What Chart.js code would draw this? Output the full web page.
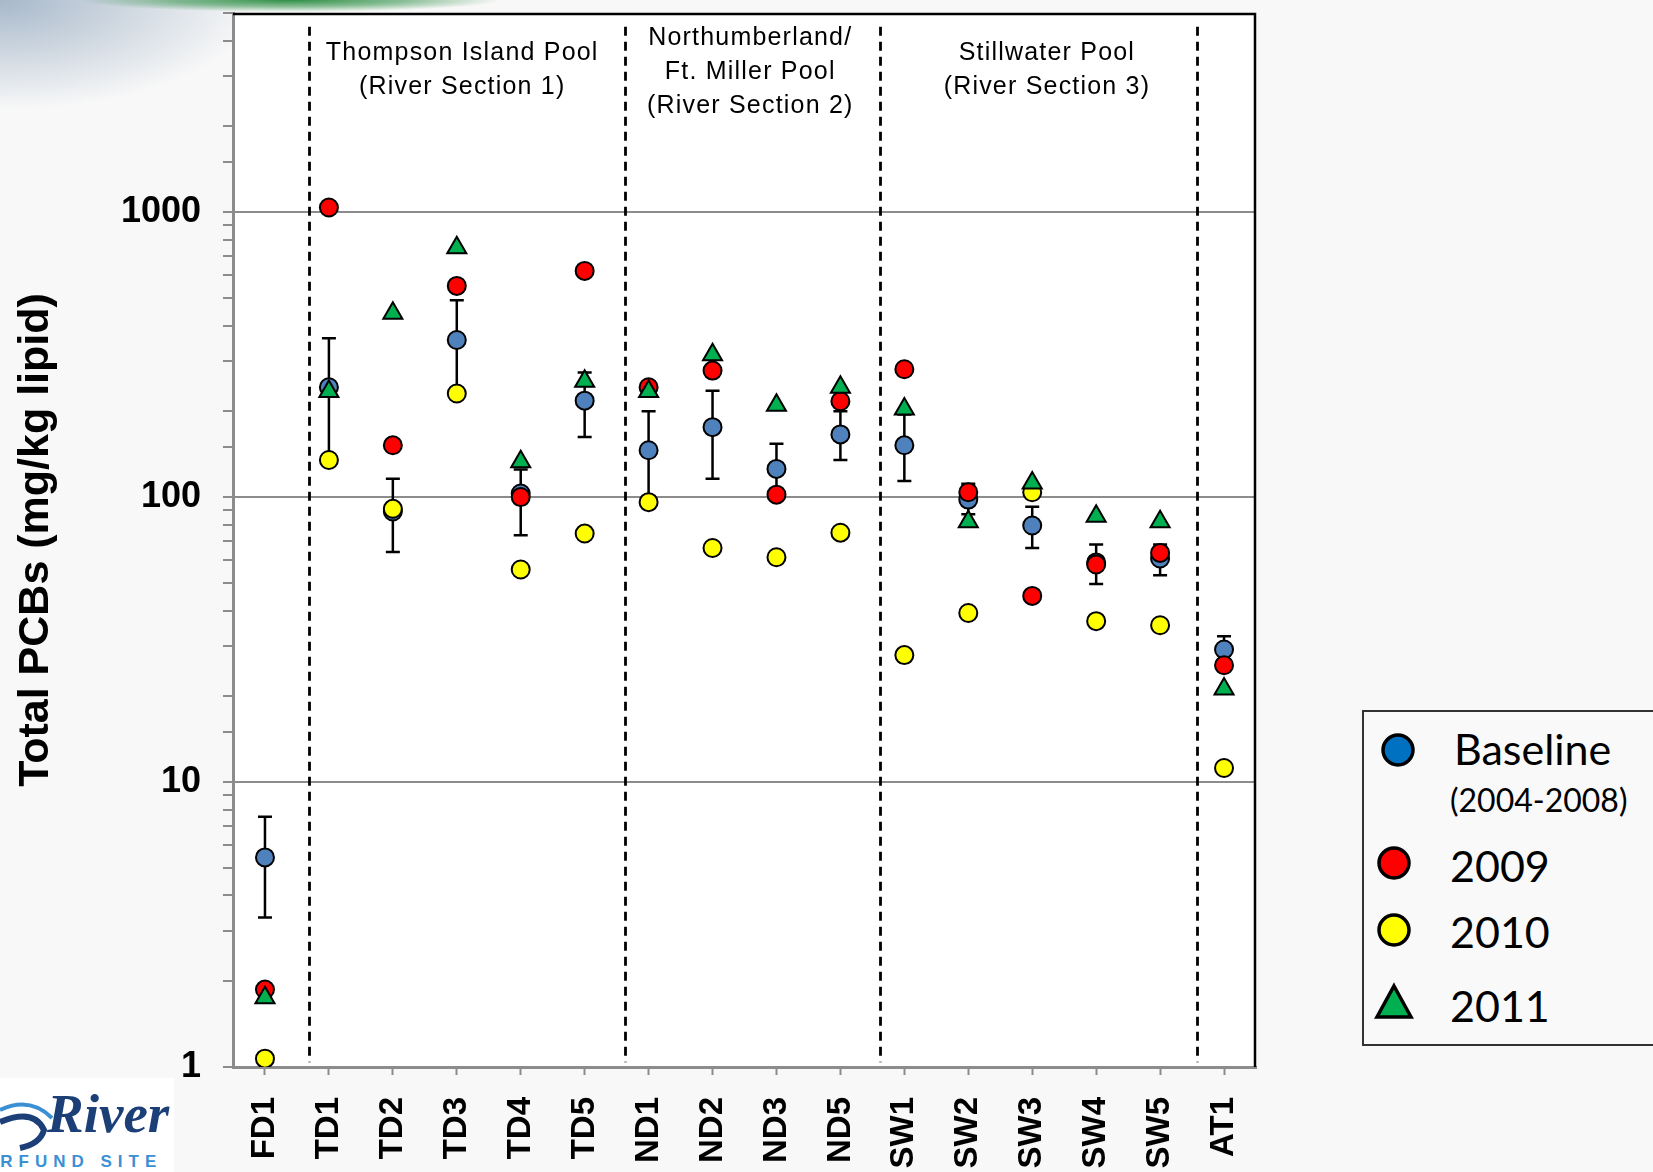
<!DOCTYPE html>
<html>
<head>
<meta charset="utf-8">
<script src="https://cdn.jsdelivr.net/npm/chart.js@4/dist/chart.umd.min.js"></script>
<style>
    html, body { margin: 0; padding: 0; }
    body {
        width: 1653px; height: 1172px; overflow: hidden; position: relative;
        background:
            radial-gradient(ellipse 210px 12px at 290px 0px, #2f8f46 0%, rgba(47,143,70,0.55) 55%, rgba(47,143,70,0) 100%),
            radial-gradient(ellipse 260px 110px at 0px 0px, #a7b8ca 0%, rgba(167,184,202,0) 100%),
            #f8f8f8;
    }
    #wrap { position: absolute; left: 0; top: 0; width: 1653px; height: 1172px; }
    #legend { position: absolute; left: 1362px; top: 710px; }
    .logo { position: absolute; left: 0; top: 1078px; width: 174px; height: 94px; background: #fff; overflow: hidden; }
    .logo .river { position: absolute; left: 47px; top: 4px; font: italic bold 55px "Liberation Serif", "DejaVu Serif", serif; color: #1c3f78; }
    .logo .site { position: absolute; left: -70px; top: 74px; font: bold 17px "Liberation Sans", Arial, sans-serif; color: #3b8fd3; letter-spacing: 6px; white-space: nowrap; }
    .logo svg { position: absolute; left: 0; top: 0; }
</style>
</head>
<body>
<div id="wrap"><canvas id="pcb-chart"></canvas></div>

<svg id="legend" width="291" height="336">
    <rect x="1" y="1" width="300" height="334" fill="#f9f9f9" stroke="#333" stroke-width="2"/>
    <circle cx="36" cy="40" r="15" fill="#0070c0" stroke="#000" stroke-width="3.5"/>
    <text x="92" y="55" font-family="Lato, 'Open Sans', sans-serif" font-size="43" fill="#000">Baseline</text>
    <text x="88" y="102" font-family="Lato, 'Open Sans', sans-serif" font-size="32" fill="#000">(2004-2008)</text>
    <circle cx="32" cy="153" r="15" fill="#ff0000" stroke="#000" stroke-width="3.5"/>
    <text x="88" y="172" font-family="Lato, 'Open Sans', sans-serif" font-size="43" fill="#000">2009</text>
    <circle cx="32" cy="220" r="15" fill="#ffff00" stroke="#000" stroke-width="3.5"/>
    <text x="88" y="238" font-family="Lato, 'Open Sans', sans-serif" font-size="43" fill="#000">2010</text>
    <polygon points="32,276 49,307 15,307" fill="#00b050" stroke="#000" stroke-width="3.5" stroke-linejoin="miter"/>
    <text x="88" y="312" font-family="Lato, 'Open Sans', sans-serif" font-size="43" fill="#000">2011</text>
</svg>

<div class="logo">
    <svg width="60" height="80">
        <path d="M0 32 Q 30 18 52 40" stroke="#3b8fd3" stroke-width="4" fill="none"/>
        <path d="M0 44 Q 34 30 44 52 Q 40 66 20 70" stroke="#1c3f78" stroke-width="6" fill="none"/>
    </svg>
    <div class="river">River</div>
    <div class="site">SUPERFUND SITE</div>
</div>

<script>
(function () {
    "use strict";

    /** Data */
    var categories = ['FD1', 'TD1', 'TD2', 'TD3', 'TD4', 'TD5', 'ND1', 'ND2', 'ND3', 'ND5',
                      'SW1', 'SW2', 'SW3', 'SW4', 'SW5', 'AT1'];
    var baseline     = [5.44, 243, 89, 356, 103, 218, 146, 176, 125.6, 166, 152, 98, 79.5, 59, 60.9, 29.2];
    var baselineLow  = [3.35, 138, 64.2, 240, 73.5, 162.5, 100, 116, 104, 135, 114, 87, 66.3, 49.6, 53.2, 26];
    var baselineHigh = [7.55, 361, 116, 491, 125, 274, 200, 236, 154, 200, 195, 111.5, 92.6, 68.2, 68.2, 32.5];
    var year2009 = [1.87, 1038, 152, 551, 100, 622, 243, 278, 102, 217, 281, 104, 45, 58, 63.7, 25.7];
    var year2010 = [1.07, 135, 91, 231, 55.7, 74.5, 96, 66.3, 61.5, 75, 27.9, 39.2, 104, 36.7, 35.5, 11.2];
    var year2011 = [1.75, 235, 442, 750, 133, 255, 235, 316, 210, 243, 204, 82, 112, 85.7, 82, 21.2];
    var yTickLabels = [1, 10, 100, 1000];

    /** River sections: dashed dividers and titles */
    var sectionBreaks = [0.69, 5.63, 9.62, 14.57];
    var sectionTitles = [
        { at: 3.085, lines: ['Thompson Island Pool', '(River Section 1)'] },
        { at: 7.59,  lines: ['Northumberland/', 'Ft. Miller Pool', '(River Section 2)'] },
        { at: 12.23, lines: ['Stillwater Pool', '(River Section 3)'] }
    ];
    var sectionTitleTop = [40, 25, 40];

    function points(values) {
        return values.map(function (v, i) { return { x: i, y: v }; });
    }

    var overlay = {
        id: 'overlay',
        beforeDraw: function (chart) {
            var a = chart.chartArea, ctx = chart.ctx;
            ctx.save();
            ctx.fillStyle = '#ffffff';
            ctx.fillRect(a.left, a.top, a.right - a.left, a.bottom - a.top);
            ctx.restore();
        },
        beforeDatasetsDraw: function (chart) {
            var ctx = chart.ctx, x = chart.scales.x, y = chart.scales.y;
            ctx.save();

            // dashed section dividers
            ctx.strokeStyle = '#000';
            ctx.lineWidth = 2.8;
            ctx.setLineDash([9, 6]);
            sectionBreaks.forEach(function (b) {
                var px = Math.round(x.getPixelForValue(b)) + 0.5;
                ctx.beginPath();
                ctx.moveTo(px, y.getPixelForValue(4470));
                ctx.lineTo(px, y.getPixelForValue(1.04));
                ctx.stroke();
            });

            // baseline error bars
            ctx.setLineDash([]);
            ctx.lineWidth = 2.5;
            categories.forEach(function (c, i) {
                var px = x.getPixelForValue(i);
                var top = y.getPixelForValue(baselineHigh[i]);
                var bot = y.getPixelForValue(baselineLow[i]);
                ctx.beginPath();
                ctx.moveTo(px, top); ctx.lineTo(px, bot);
                ctx.moveTo(px - 7, top); ctx.lineTo(px + 7, top);
                ctx.moveTo(px - 7, bot); ctx.lineTo(px + 7, bot);
                ctx.stroke();
            });
            ctx.restore();
        },
        afterDraw: function (chart) {
            var ctx = chart.ctx, a = chart.chartArea, x = chart.scales.x;
            ctx.save();

            // frame: top and right
            ctx.strokeStyle = '#000';
            ctx.lineWidth = 2.5;
            ctx.beginPath();
            ctx.moveTo(a.left, a.top + 1);
            ctx.lineTo(a.right - 1, a.top + 1);
            ctx.lineTo(a.right - 1, a.bottom);
            ctx.stroke();

            // section titles
            ctx.fillStyle = '#000';
            ctx.font = '25px "Liberation Sans", Arial, sans-serif';
            ctx.textAlign = 'center';
            ctx.textBaseline = 'middle';
            ctx.letterSpacing = '1.2px';
            sectionTitles.forEach(function (s, k) {
                var px = x.getPixelForValue(s.at);
                s.lines.forEach(function (line, j) {
                    ctx.fillText(line, px, a.top + sectionTitleTop[k] + j * 34);
                });
            });
            ctx.restore();
        }
    };

    var ctx = document.getElementById('pcb-chart').getContext('2d');
    var pcbChart = new Chart(ctx, {
        type: 'scatter',
        data: {
            datasets: [{
                label: 'Baseline (2004-2008)',
                data: points(baseline),
                backgroundColor: '#4f81bd',
                order: 4
            }, {
                label: '2009',
                data: points(year2009),
                backgroundColor: '#ff0000',
                order: 3
            }, {
                label: '2010',
                data: points(year2010),
                backgroundColor: '#ffff00',
                order: 2
            }, {
                label: '2011',
                data: points(year2011),
                backgroundColor: '#00b050',
                pointStyle: 'triangle',
                pointRadius: 11,
                order: 1
            }]
        },
        options: {
            responsive: true,
            maintainAspectRatio: false,
            animation: false,
            elements: {
                point: { radius: 9, borderColor: '#000', borderWidth: 2, hoverRadius: 9 }
            },
            layout: { padding: { top: 9, right: 397, left: 0, bottom: 0 } },
            plugins: {
                legend: { display: false },
                tooltip: { enabled: false }
            },
            scales: {
                x: {
                    type: 'linear',
                    min: -0.5,
                    max: 15.5,
                    afterBuildTicks: function (scale) {
                        scale.ticks = categories.map(function (c, i) { return { value: i }; });
                    },
                    afterFit: function (scale) {
                        scale.height = 105;
                        scale.paddingLeft = 0;
                        scale.paddingRight = 0;
                    },
                    border: { color: '#8c8c8c', width: 3 },
                    grid: { drawOnChartArea: false, drawTicks: true, tickLength: 8, color: '#8c8c8c', tickWidth: 2 },
                    ticks: {
                        autoSkip: false,
                        minRotation: 90,
                        maxRotation: 90,
                        padding: 22,
                        color: '#000',
                        font: { family: '"Liberation Sans", Arial, sans-serif', size: 33, weight: 'bold' },
                        callback: function (v) { return categories[v]; }
                    }
                },
                y: {
                    type: 'logarithmic',
                    min: 1,
                    max: 5000,
                    afterFit: function (scale) {
                        scale.width = 233;
                        scale.paddingTop = 0;
                        scale.paddingBottom = 0;
                    },
                    border: { color: '#8c8c8c', width: 3 },
                    grid: {
                        color: function (c) {
                            return (c.tick && c.tick.value > 1 && yTickLabels.indexOf(c.tick.value) >= 0) ? '#8c8c8c' : 'rgba(0,0,0,0)';
                        },
                        lineWidth: 2,
                        tickColor: '#8c8c8c',
                        tickWidth: 2,
                        tickLength: 10
                    },
                    ticks: {
                        autoSkip: false,
                        padding: 22,
                        color: '#000',
                        font: { family: '"Liberation Sans", Arial, sans-serif', size: 36, weight: 'bold' },
                        callback: function (v) { return yTickLabels.indexOf(v) >= 0 ? String(v) : ''; }
                    },
                    title: {
                        display: true,
                        text: 'Total PCBs (mg/kg lipid)',
                        color: '#000',
                        padding: { top: 10, bottom: 0 },
                        font: { family: '"Liberation Sans", Arial, sans-serif', size: 43, weight: 'bold' }
                    }
                }
            }
        },
        plugins: [overlay]
    });
})();
</script>
</body>
</html>
